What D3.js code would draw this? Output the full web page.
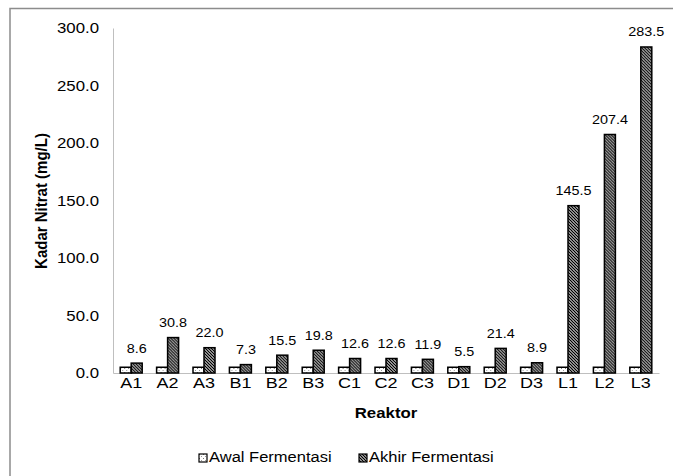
<!DOCTYPE html>
<html><head><meta charset="utf-8">
<script src="https://cdn.jsdelivr.net/npm/d3@7"></script>
<style>body{margin:0;background:#fff;}svg{display:block;font-family:"Liberation Sans",Arial,sans-serif;}</style>
</head><body>
<script>
const categories = ["A1","A2","A3","B1","B2","B3","C1","C2","C3","D1","D2","D3","L1","L2","L3"];
const awal = [5.0,5.0,5.0,5.0,5.0,5.0,5.0,5.0,5.0,5.0,5.0,5.0,5.0,5.0,5.0];
const akhir = [8.6,30.8,22.0,7.3,15.5,19.8,12.6,12.6,11.9,5.5,21.4,8.9,145.5,207.4,283.5];
const seriesNames = ["Awal Fermentasi","Akhir Fermentasi"];
const yTicks = [0,50,100,150,200,250,300];

const W=673,H=476, SX=1.2;
const svg=d3.select("body").append("svg").attr("width",W).attr("height",H);
const defs=svg.append("defs");
const p1=defs.append("pattern").attr("id","pAwal").attr("patternUnits","userSpaceOnUse").attr("width",4).attr("height",4);
p1.append("rect").attr("width",4).attr("height",4).attr("fill","#fff");
p1.append("rect").attr("x",0).attr("y",0).attr("width",1).attr("height",1).attr("fill","#777");
p1.append("rect").attr("x",2).attr("y",2).attr("width",1).attr("height",1).attr("fill","#999");
const p2=defs.append("pattern").attr("id","pAkhir").attr("patternUnits","userSpaceOnUse").attr("width",3).attr("height",3);
p2.append("rect").attr("width",3).attr("height",3).attr("fill","#fff");
p2.append("path").attr("d","M-1,-1 L4,4 M-1,2 L1,4 M2,-1 L4,1").attr("stroke","#000").attr("stroke-width",1.3);

svg.append("path").attr("d","M10,480 V8.5 H680").attr("fill","none").attr("stroke","#8c8c8c").attr("stroke-width",1.5);

const x0=d3.scaleBand().domain(categories).range([113,659]);
const x1=d3.scaleBand().domain(seriesNames).range([0,22]);
const y=d3.scaleLinear().domain([0,300]).range([373,28]);

const yAxis=svg.append("g").attr("transform","translate(113,0)").call(d3.axisLeft(y).tickValues(yTicks).tickFormat(d3.format(".1f")).tickSize(0));
yAxis.select(".domain").attr("stroke","#bfbfbf");
yAxis.selectAll("text").attr("font-size",14).attr("fill","#000").attr("font-family","Liberation Sans, Arial, sans-serif")
  .attr("x",-14/SX).attr("dy","0.35em").attr("transform",`scale(${SX},1)`);

const xAxis=svg.append("g").attr("transform","translate(0,373)").call(d3.axisBottom(x0).tickSize(0));
xAxis.select(".domain").attr("stroke","#bfbfbf");
xAxis.selectAll("text").attr("font-size",15).attr("fill","#000").attr("font-family","Liberation Sans, Arial, sans-serif")
  .attr("y",15).attr("dy",0).attr("transform",`scale(${SX},1)`);

const data=categories.map((c,i)=>({c,vals:[{s:seriesNames[0],v:awal[i]},{s:seriesNames[1],v:akhir[i]}]}));
const g=svg.append("g").selectAll("g").data(data).join("g")
  .attr("transform",d=>`translate(${x0(d.c)+x0.bandwidth()/2-11},0)`);
g.selectAll("rect").data(d=>d.vals).join("rect")
  .attr("x",d=>x1(d.s)).attr("width",x1.bandwidth())
  .attr("y",d=>y(d.v)).attr("height",d=>y(0)-y(d.v))
  .attr("fill",(d,i)=>i===0?"url(#pAwal)":"url(#pAkhir)")
  .attr("stroke","#000").attr("stroke-width",1.5);

svg.append("g").selectAll("text").data(data).join("text")
  .attr("transform",(d,i)=>`translate(${x0(d.c)+x0.bandwidth()/2+5.5},${y(akhir[i])-10.5}) scale(${SX},1)`)
  .attr("text-anchor","middle").attr("font-size",12).attr("fill","#000")
  .text((d,i)=>akhir[i].toFixed(1));

svg.append("text").attr("transform",`translate(386,418) scale(${SX},1)`).attr("text-anchor","middle").attr("font-size",14).attr("font-weight","bold").text("Reaktor");
svg.append("text").attr("transform","translate(47,201) rotate(-90) scale(1,1.15)").attr("text-anchor","middle").attr("font-size",15).attr("font-weight","bold").text("Kadar Nitrat (mg/L)");

const leg=[{name:seriesNames[0],fill:"url(#pAwal)",x:199},{name:seriesNames[1],fill:"url(#pAkhir)",x:359}];
const lg=svg.append("g").selectAll("g").data(leg).join("g").attr("transform",d=>`translate(${d.x},454)`);
lg.append("rect").attr("width",8).attr("height",8).attr("fill",d=>d.fill).attr("stroke","#000").attr("stroke-width",1.2);
lg.append("text").attr("transform",`translate(10,8) scale(1.14,1)`).attr("font-size",14.5).text(d=>d.name);
</script>
</body></html>
